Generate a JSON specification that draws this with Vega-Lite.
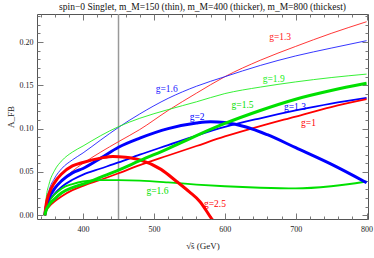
{
  "$schema": "https://vega.github.io/schema/vega-lite/v6.json",
  "width": 331,
  "height": 205,
  "autosize": {"type": "none"},
  "padding": {"left": 37, "top": 14, "right": 6, "bottom": 39},
  "background": "white",
  "config": {
    "view": {"stroke": "#555", "strokeWidth": 1},
    "font": "Liberation Serif",
    "axis": {"labelFont": "Liberation Serif", "titleFont": "Liberation Serif", "labelFontSize": 8, "labelColor": "#222", "tickColor": "#777", "domain": false, "grid": false, "titleFontWeight": "normal", "titleFontSize": 9, "titleColor": "#222"}
  },
  "title": {"text": "spin−0 Singlet, m_M=150 (thin), m_M=400 (thicker), m_M=800 (thickest)", "font": "Liberation Serif", "fontSize": 9.5, "fontWeight": "normal", "color": "#111", "offset": 1.5},
  "datasets": {
    "curves": [
      {"s":"R150","x":346,"y":0},{"s":"R150","x":348,"y":0.010},{"s":"R150","x":352,"y":0.019},{"s":"R150","x":360,"y":0.030},{"s":"R150","x":370,"y":0.040},{"s":"R150","x":385,"y":0.051},{"s":"R150","x":400,"y":0.060},{"s":"R150","x":425,"y":0.073},{"s":"R150","x":450,"y":0.085},{"s":"R150","x":480,"y":0.099},{"s":"R150","x":520,"y":0.121},{"s":"R150","x":560,"y":0.141},{"s":"R150","x":600,"y":0.160},{"s":"R150","x":650,"y":0.179},{"s":"R150","x":700,"y":0.195},{"s":"R150","x":750,"y":0.210},{"s":"R150","x":800,"y":0.2235},
      {"s":"B150","x":346,"y":0},{"s":"B150","x":348,"y":0.016},{"s":"B150","x":352,"y":0.029},{"s":"B150","x":360,"y":0.043},{"s":"B150","x":370,"y":0.054},{"s":"B150","x":385,"y":0.064},{"s":"B150","x":400,"y":0.072},{"s":"B150","x":425,"y":0.087},{"s":"B150","x":450,"y":0.1015},{"s":"B150","x":480,"y":0.117},{"s":"B150","x":520,"y":0.135},{"s":"B150","x":560,"y":0.149},{"s":"B150","x":600,"y":0.160},{"s":"B150","x":650,"y":0.173},{"s":"B150","x":700,"y":0.184},{"s":"B150","x":750,"y":0.193},{"s":"B150","x":800,"y":0.2016},
      {"s":"G150","x":346,"y":0},{"s":"G150","x":348,"y":0.020},{"s":"G150","x":352,"y":0.036},{"s":"G150","x":360,"y":0.052},{"s":"G150","x":370,"y":0.063},{"s":"G150","x":385,"y":0.073},{"s":"G150","x":400,"y":0.080},{"s":"G150","x":425,"y":0.092},{"s":"G150","x":450,"y":0.1023},{"s":"G150","x":480,"y":0.112},{"s":"G150","x":520,"y":0.122},{"s":"G150","x":560,"y":0.131},{"s":"G150","x":600,"y":0.1405},{"s":"G150","x":650,"y":0.148},{"s":"G150","x":700,"y":0.154},{"s":"G150","x":750,"y":0.159},{"s":"G150","x":800,"y":0.163},
      {"s":"B400","x":346,"y":0},{"s":"B400","x":348,"y":0.008},{"s":"B400","x":352,"y":0.016},{"s":"B400","x":360,"y":0.025},{"s":"B400","x":370,"y":0.033},{"s":"B400","x":385,"y":0.041},{"s":"B400","x":400,"y":0.047},{"s":"B400","x":425,"y":0.054},{"s":"B400","x":450,"y":0.061},{"s":"B400","x":480,"y":0.070},{"s":"B400","x":520,"y":0.081},{"s":"B400","x":560,"y":0.092},{"s":"B400","x":600,"y":0.102},{"s":"B400","x":650,"y":0.112},{"s":"B400","x":700,"y":0.121},{"s":"B400","x":750,"y":0.129},{"s":"B400","x":800,"y":0.1355},
      {"s":"R400","x":346,"y":0},{"s":"R400","x":348,"y":0.005},{"s":"R400","x":352,"y":0.010},{"s":"R400","x":360,"y":0.016},{"s":"R400","x":370,"y":0.022},{"s":"R400","x":385,"y":0.029},{"s":"R400","x":400,"y":0.034},{"s":"R400","x":425,"y":0.041},{"s":"R400","x":450,"y":0.0485},{"s":"R400","x":480,"y":0.058},{"s":"R400","x":520,"y":0.069},{"s":"R400","x":560,"y":0.080},{"s":"R400","x":600,"y":0.091},{"s":"R400","x":650,"y":0.103},{"s":"R400","x":700,"y":0.114},{"s":"R400","x":750,"y":0.125},{"s":"R400","x":800,"y":0.134},
      {"s":"G400","x":346,"y":0},{"s":"G400","x":348,"y":0.008},{"s":"G400","x":352,"y":0.016},{"s":"G400","x":360,"y":0.024},{"s":"G400","x":370,"y":0.031},{"s":"G400","x":385,"y":0.036},{"s":"G400","x":400,"y":0.039},{"s":"G400","x":425,"y":0.0405},{"s":"G400","x":450,"y":0.0405},{"s":"G400","x":480,"y":0.040},{"s":"G400","x":520,"y":0.038},{"s":"G400","x":560,"y":0.0355},{"s":"G400","x":600,"y":0.0335},{"s":"G400","x":650,"y":0.0318},{"s":"G400","x":700,"y":0.031},{"s":"G400","x":750,"y":0.0335},{"s":"G400","x":800,"y":0.039},
      {"s":"B800","x":346,"y":0},{"s":"B800","x":348,"y":0.010},{"s":"B800","x":352,"y":0.020},{"s":"B800","x":360,"y":0.031},{"s":"B800","x":370,"y":0.040},{"s":"B800","x":385,"y":0.049},{"s":"B800","x":400,"y":0.054},{"s":"B800","x":425,"y":0.066},{"s":"B800","x":450,"y":0.0785},{"s":"B800","x":480,"y":0.089},{"s":"B800","x":520,"y":0.100},{"s":"B800","x":560,"y":0.1065},{"s":"B800","x":580,"y":0.108},{"s":"B800","x":600,"y":0.107},{"s":"B800","x":630,"y":0.102},{"s":"B800","x":660,"y":0.093},{"s":"B800","x":700,"y":0.078},{"s":"B800","x":750,"y":0.059},{"s":"B800","x":800,"y":0.0376},
      {"s":"R800","x":346,"y":0},{"s":"R800","x":348,"y":0.013},{"s":"R800","x":352,"y":0.025},{"s":"R800","x":360,"y":0.038},{"s":"R800","x":370,"y":0.048},{"s":"R800","x":385,"y":0.057},{"s":"R800","x":400,"y":0.061},{"s":"R800","x":425,"y":0.066},{"s":"R800","x":442,"y":0.068},{"s":"R800","x":460,"y":0.067},{"s":"R800","x":480,"y":0.064},{"s":"R800","x":510,"y":0.053},{"s":"R800","x":532,"y":0.039},{"s":"R800","x":550,"y":0.027},{"s":"R800","x":565,"y":0.0157},{"s":"R800","x":581,"y":-0.0035},{"s":"R800","x":590,"y":-0.013},
      {"s":"G800","x":346,"y":0},{"s":"G800","x":348,"y":0.006},{"s":"G800","x":352,"y":0.012},{"s":"G800","x":360,"y":0.019},{"s":"G800","x":370,"y":0.026},{"s":"G800","x":385,"y":0.032},{"s":"G800","x":400,"y":0.036},{"s":"G800","x":425,"y":0.044},{"s":"G800","x":450,"y":0.052},{"s":"G800","x":480,"y":0.063},{"s":"G800","x":520,"y":0.077},{"s":"G800","x":560,"y":0.092},{"s":"G800","x":600,"y":0.106},{"s":"G800","x":650,"y":0.121},{"s":"G800","x":700,"y":0.134},{"s":"G800","x":750,"y":0.144},{"s":"G800","x":800,"y":0.1524}
    ],
    "labels": [
      {"s":"R150","label":"g=1.3","x":678,"y":0.2053},
      {"s":"B150","label":"g=1.6","x":518,"y":0.1458},
      {"s":"G150","label":"g=1.9","x":669,"y":0.157},
      {"s":"G800","label":"g=1.5","x":625,"y":0.1274},
      {"s":"B800","label":"g=2","x":561,"y":0.1139},
      {"s":"B400","label":"g=1.3","x":699,"y":0.1247},
      {"s":"R400","label":"g=1","x":718,"y":0.107},
      {"s":"G400","label":"g=1.6","x":505,"y":0.028},
      {"s":"R800","label":"g=2.5","x":586,"y":0.0127}
    ],
    "marker": [{"x": 450}]
  },
  "layer": [
    {
      "data": {"name": "marker"},
      "mark": {"type": "rule", "color": "#999", "strokeWidth": 1.5},
      "encoding": {
        "x": {"field": "x", "type": "quantitative", "axis": null}
      }
    },
    {
      "data": {"name": "curves"},
      "mark": {"type": "line", "interpolate": "monotone", "clip": true},
      "encoding": {
        "x": {"field": "x", "type": "quantitative", "scale": {"domain": [335, 802], "nice": false, "zero": false},
          "axis": {"orient": "bottom", "title": "√ŝ  (GeV)", "titlePadding": 8,
            "values": [340,360,380,400,420,440,460,480,500,520,540,560,580,600,620,640,660,680,700,720,740,760,780,800],
            "labelExpr": "datum.value % 100 == 0 ? datum.label : ''",
            "tickSize": {"condition": {"test": "datum.value % 100 == 0", "value": -6}, "value": -3},
            "labelPadding": 12}},
        "y": {"field": "y", "type": "quantitative", "scale": {"domain": [-0.0043, 0.2324], "nice": false, "zero": false},
          "axis": {"orient": "left", "title": "A_FB", "titlePadding": 4,
            "values": [0,0.01,0.02,0.03,0.04,0.05,0.06,0.07,0.08,0.09,0.1,0.11,0.12,0.13,0.14,0.15,0.16,0.17,0.18,0.19,0.2,0.21,0.22,0.23],
            "format": ".2f",
            "labelExpr": "abs(datum.value*20 - round(datum.value*20)) < 0.001 ? datum.label : ''",
            "tickSize": {"condition": {"test": "abs(datum.value*20 - round(datum.value*20)) < 0.001", "value": -6}, "value": -3},
            "labelPadding": 10}},
        "detail": {"field": "s", "type": "nominal"},
        "color": {"field": "s", "type": "nominal", "legend": null,
          "scale": {"domain": ["R150","B150","G150","B400","R400","G400","B800","R800","G800"],
                    "range": ["#ff2020","#2020ff","#20ee20","#0000ff","#ff0000","#00e000","#0000ff","#ff0000","#00e000"]}},
        "strokeWidth": {"field": "s", "type": "nominal", "legend": null,
          "scale": {"type": "ordinal", "domain": ["R150","B150","G150","B400","R400","G400","B800","R800","G800"],
                    "range": [0.9,0.9,0.9,1.8,1.8,1.8,3,3,3]}}
      }
    },
    {
      "data": {"name": "labels"},
      "mark": {"type": "text", "font": "Liberation Serif", "fontSize": 9.5, "align": "center", "baseline": "middle"},
      "encoding": {
        "x": {"field": "x", "type": "quantitative",
          "axis": {"orient": "top", "title": null, "labels": false,
            "values": [340,360,380,400,420,440,460,480,500,520,540,560,580,600,620,640,660,680,700,720,740,760,780,800],
            "tickSize": {"condition": {"test": "datum.value % 100 == 0", "value": -6}, "value": -3}}},
        "y": {"field": "y", "type": "quantitative",
          "axis": {"orient": "right", "title": null, "labels": false,
            "values": [0,0.01,0.02,0.03,0.04,0.05,0.06,0.07,0.08,0.09,0.1,0.11,0.12,0.13,0.14,0.15,0.16,0.17,0.18,0.19,0.2,0.21,0.22,0.23],
            "tickSize": {"condition": {"test": "abs(datum.value*20 - round(datum.value*20)) < 0.001", "value": -6}, "value": -3}}},
        "text": {"field": "label", "type": "nominal"},
        "color": {"field": "s", "type": "nominal", "legend": null}
      }
    }
  ],
  "resolve": {"axis": {"x": "independent", "y": "independent"}}
}
